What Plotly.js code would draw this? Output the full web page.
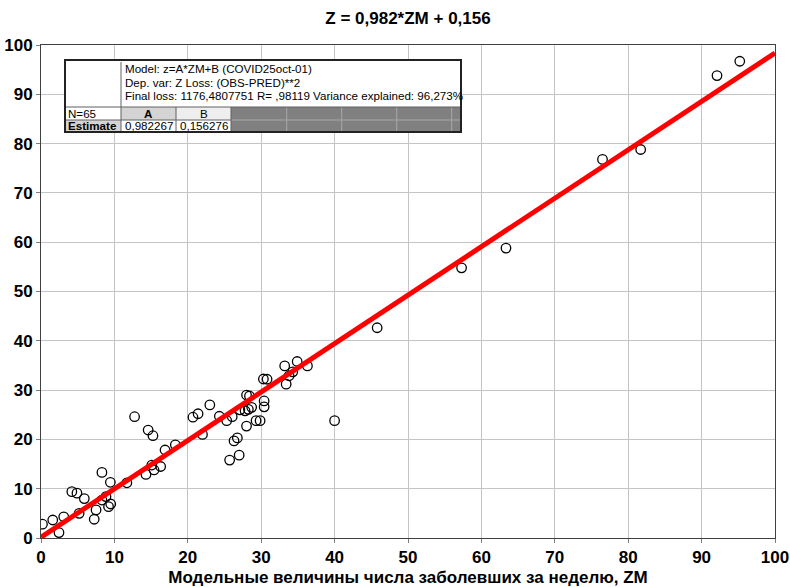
<!DOCTYPE html>
<html>
<head>
<meta charset="utf-8">
<script src="https://cdn.plot.ly/plotly-3.0.1.min.js"></script>
<style>html,body{margin:0;padding:0;background:#fff;}#chart{width:790px;height:587px;}</style>
</head>
<body>
<div id="chart"></div>
<script>
// Observed points: ZM (model) vs Z (observed)
const zmValues = [0.2,1.6,2.45,3.1,4.2,4.9,5.9,5.2,7.25,7.5,8.3,8.3,8.85,9.2,9.5,9.45,11.7,12.75,14.3,14.6,15.25,15.1,15.4,16.3,16.9,18.3,20.7,21.4,22.0,23.0,24.3,25.3,25.7,26.05,26.3,26.75,27.0,27.1,27.8,28.25,28.0,28.4,28.7,28.0,29.3,29.85,30.3,30.8,30.4,30.4,33.2,33.4,33.8,34.3,34.9,36.3,40.0,45.8,57.3,63.35,76.5,81.7,92.1,95.2];
const zValues  = [2.8,3.65,1.1,4.3,9.4,9.1,8.0,5.0,3.8,5.7,13.3,7.7,8.4,6.35,6.9,11.3,11.2,24.6,12.9,21.9,20.75,14.8,13.8,14.5,17.85,18.9,24.5,25.2,21.0,27.0,24.7,23.8,15.8,24.6,19.7,20.3,16.8,26.0,25.8,26.1,29.0,28.8,26.5,22.7,23.8,23.8,32.25,32.2,27.8,26.6,34.9,31.2,32.9,33.7,35.8,34.9,23.8,42.65,54.8,58.8,76.8,78.8,93.8,96.7];
// Fitted line z = 0.982267*ZM + 0.156276, end points
const fitX = [0, 100];
const fitY = [0.156, 98.383];
const xTicks = [0,10,20,30,40,50,60,70,80,90,100];
const yTicks = [0,10,20,30,40,50,60,70,80,90,100];
const tableLines = ["Model: z=A*ZM+B (COVID25oct-01)", "Dep. var: Z Loss: (OBS-PRED)**2", "Final loss: 1176,4807751 R= ,98119 Variance explained: 96,273%"];
const paramNames = ["A", "B"];
const paramEstimates = ["0,982267", "0,156276"];
const nLabel = "N=65";
const estLabel = "Estimate";

const L = 41, R = 775, T = 45, B = 538;
const px = x => (x - L) / (R - L);
const py = y => (B - y) / (B - T);
const FONT = '"Liberation Sans", Arial, sans-serif';

const shapes = [];
const annotations = [];
function rect(x0, y0, x1, y1, fill, lineColor, lw) {
  shapes.push({type:'rect', xref:'paper', yref:'paper', x0:px(x0), x1:px(x1), y0:py(y1), y1:py(y0),
    fillcolor: fill, line:{color: lineColor || 'rgba(0,0,0,0)', width: lw || 0}, layer:'above'});
}
function line(x0, y0, x1, y1, color, lw) {
  shapes.push({type:'line', xref:'paper', yref:'paper', x0:px(x0), x1:px(x1), y0:py(y0), y1:py(y1),
    line:{color: color, width: lw}, layer:'above'});
}
function text(t, x, y, anchor, bold) {
  annotations.push({text: bold ? '<b>' + t + '</b>' : t, xref:'paper', yref:'paper', x:px(x), y:py(y),
    xanchor: anchor, yanchor:'middle', showarrow:false, font:{family:FONT, size:11.6, color:'#000'}});
}
// table
rect(65, 60, 461, 132, '#ffffff');
rect(121, 107, 176, 120, '#d4d4d4');
rect(176, 107, 231, 120, '#eeeeee');
rect(231, 107, 461, 132, '#808080');
rect(65, 120, 121, 132, '#d4d4d4');
[286.7, 341.7, 396.7, 451.7].forEach(x => line(x, 107, x, 132, '#a8a8a8', 1));
line(231, 120, 461, 120, '#a8a8a8', 1);
line(121, 62, 121, 132, '#606060', 1);
line(176, 107, 176, 132, '#606060', 1);
line(231, 107, 231, 132, '#606060', 1);
line(65, 107, 461, 107, '#606060', 1);
line(65, 120, 231, 120, '#606060', 1);
rect(65, 60, 461, 132, 'rgba(0,0,0,0)', '#222', 2);
text(tableLines[0], 123, 68.5, 'left');
text(tableLines[1], 123, 82, 'left');
text(tableLines[2], 123, 95.5, 'left');
text(nLabel, 66, 113.5, 'left');
text(paramNames[0], 148.5, 113.5, 'center', true);
text(paramNames[1], 203.5, 113.5, 'center');
text(estLabel, 66, 126, 'left', true);
text(paramEstimates[0], 123, 126, 'left');
text(paramEstimates[1], 178, 126, 'left');

const data = [
  {x: zmValues, y: zValues, type:'scatter', mode:'markers', cliponaxis:true,
   marker:{symbol:'circle-open', size:9.5, color:'#000', line:{width:1.3, color:'#000'}}, hoverinfo:'x+y'},
  {x: fitX, y: fitY, type:'scatter', mode:'lines', line:{color:'#ff0000', width:5}}
];

const axisCommon = {
  range:[0,100], showgrid:true, gridcolor:'#c4c4c4', gridwidth:1, zeroline:false,
  showline:true, linecolor:'#404040', linewidth:1, mirror:true,
  ticks:'outside', ticklen:4, tickcolor:'#808080', tickmode:'array',
  tickfont:{family:FONT, size:17, color:'#000', weight:'bold'}
};

const layout = {
  width:790, height:587,
  margin:{l:L, r:790-R, t:T, b:587-B, pad:0},
  paper_bgcolor:'#fff', plot_bgcolor:'#fff',
  showlegend:false,
  title:{text:'<b>Z = 0,982*ZM + 0,156</b>', x:0.5, xref:'paper', xanchor:'center', y:1-18/587, yanchor:'middle',
         font:{family:FONT, size:17, color:'#000'}},
  xaxis: Object.assign({}, axisCommon, {tickvals:xTicks, ticktext:xTicks.map(String),
    title:{text:'<b>Модельные величины числа заболевших за неделю, ZM</b>', standoff:8, font:{family:FONT, size:17, color:'#000'}}}),
  yaxis: Object.assign({}, axisCommon, {tickvals:yTicks, ticktext:yTicks.map(String)}),
  shapes: shapes,
  annotations: annotations
};

Plotly.newPlot('chart', data, layout, {displayModeBar:false, staticPlot:true});
</script>
</body>
</html>
